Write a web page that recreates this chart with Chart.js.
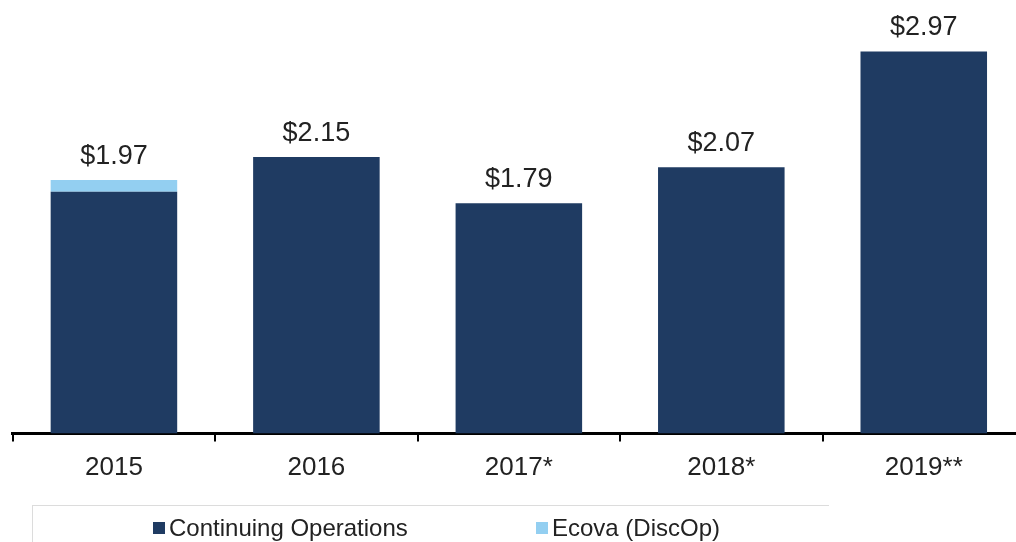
<!DOCTYPE html>
<html>
<head>
<meta charset="utf-8">
<script src="https://cdn.jsdelivr.net/npm/chart.js@4.4.0/dist/chart.umd.min.js"></script>
<style>
  html, body { margin: 0; padding: 0; background: #ffffff; overflow: hidden; }
  #wrap { position: relative; width: 1016px; height: 542px; overflow: hidden; }
  #box { position: absolute; left: 0; top: 0; width: 1030px; height: 542px; }
  #legend {
    position: absolute; left: 32px; top: 505px; width: 796px; height: 60px;
    border-top: 1px solid #dcdcdc; border-left: 1px solid #dcdcdc;
    font-family: "Liberation Sans", Arial, sans-serif; font-size: 24px; color: #222;
  }
  .item { position: absolute; top: 8px; display: flex; align-items: center; white-space: nowrap; }
  .sw { width: 12px; height: 12px; margin-right: 4px; }
</style>
</head>
<body>
<div id="wrap">
  <div id="box"><canvas id="c"></canvas></div>
  <div id="legend"></div>
</div>
<script>
const categories = ['2015', '2016', '2017*', '2018*', '2019**'];
const continuingOps = [1.88, 2.15, 1.79, 2.07, 2.97];
const ecovaDiscOp = [0.09, 0, 0, 0, 0];
const totalLabels = ['$1.97', '$2.15', '$1.79', '$2.07', '$2.97'];
const seriesNames = ['Continuing Operations', 'Ecova (DiscOp)'];
const seriesColors = ['#1f3b62', '#93cff1'];

const totalsPlugin = {
  id: 'totals',
  afterDatasetsDraw(chart) {
    const ctx = chart.ctx;
    const y = chart.scales.y;
    const x = chart.scales.x;
    ctx.save();
    ctx.font = '27px "Liberation Sans", Arial, sans-serif';
    ctx.fillStyle = '#222222';
    ctx.textAlign = 'center';
    ctx.textBaseline = 'alphabetic';
    categories.forEach((c, i) => {
      const total = continuingOps[i] + ecovaDiscOp[i];
      ctx.fillText(totalLabels[i], x.getPixelForValue(i), y.getPixelForValue(total) - 16);
    });
    ctx.restore();
  }
};

const canvas = document.getElementById('c');
canvas.width = 1030; canvas.height = 542;
const chart = new Chart(canvas, {
  type: 'bar',
  data: {
    labels: categories,
    datasets: [
      { label: seriesNames[0], data: continuingOps, backgroundColor: seriesColors[0], borderWidth: 0 },
      { label: seriesNames[1], data: ecovaDiscOp, backgroundColor: seriesColors[1], borderWidth: 0 }
    ]
  },
  options: {
    responsive: false,
    animation: false,
    maintainAspectRatio: false,
    layout: { padding: { left: 12.7, right: 5, top: 9, bottom: 58.5 } },
    datasets: { bar: { barPercentage: 0.625, categoryPercentage: 1.0 } },
    plugins: { legend: { display: false }, tooltip: { enabled: false } },
    scales: {
      x: {
        stacked: true,
        offset: true,
        grid: { display: true, drawOnChartArea: false, drawTicks: true, tickLength: 8, color: '#000', lineWidth: 2, offset: true },
        border: { display: true, color: '#000', width: 3 },
        ticks: { color: '#222', font: { family: '"Liberation Sans", Arial, sans-serif', size: 26 }, padding: 11, maxRotation: 0 },
        afterFit(s) { s.height = 50; }
      },
      y: {
        stacked: true,
        display: false,
        min: 0,
        max: 3.3
      }
    }
  },
  plugins: [totalsPlugin]
});

const legend = document.getElementById('legend');
const positions = [120, 503];
chart.data.datasets.forEach((ds, i) => {
  const it = document.createElement('div');
  it.className = 'item';
  it.style.left = positions[i] + 'px';
  const sw = document.createElement('span');
  sw.className = 'sw';
  sw.style.background = ds.backgroundColor;
  const tx = document.createElement('span');
  tx.textContent = ds.label;
  it.appendChild(sw); it.appendChild(tx);
  legend.appendChild(it);
});
</script>
</body>
</html>
